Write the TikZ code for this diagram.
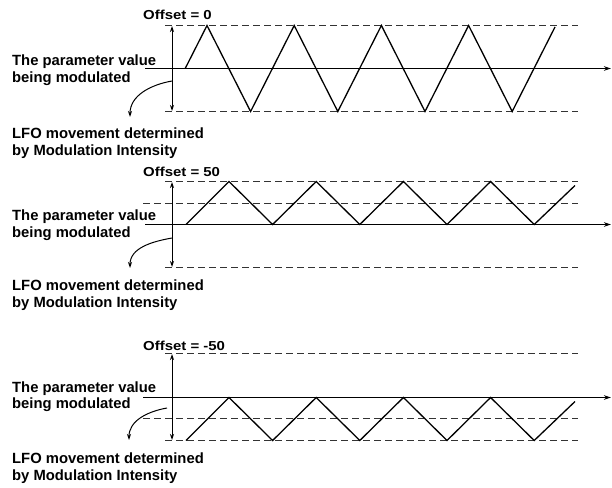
\documentclass[tikz,border=0pt]{standalone}
\usepackage{fontspec}
\setmainfont{Liberation Sans}
\usetikzlibrary{arrows.meta}
\tikzset{
  lbl/.style={anchor=base west, inner sep=0pt, align=left, font=\fontsize{14.8}{16.5}\selectfont\bfseries},
  offs/.style={anchor=base west, inner sep=0pt, font=\fontsize{13}{15}\selectfont\bfseries},
  guideline/.style={dash pattern=on 7pt off 4pt, line width=1pt, black!80},
  axisline/.style={line width=1.3pt, -{Stealth[length=7pt,width=4.5pt]}},
  waveline/.style={line width=1.3pt, line join=miter},
  spanarrow/.style={line width=1pt, {Stealth[length=6pt,width=4pt]}-{Stealth[length=6pt,width=4pt]}},
  curvarrow/.style={line width=1pt, -{Stealth[length=6pt,width=4pt]}},
}
\begin{document}
\begin{tikzpicture}[x=1pt,y=-1pt]
\useasboundingbox (0,0) rectangle (612,487);

% ---------- Panel 1: Offset = 0 ----------
\node[offs] (o1) at (143,20) {\scalebox{1.15}[1]{Offset = 0}};
\coordinate (t1a) at (165,25.5); \coordinate (t1b) at (578,25.5);
\coordinate (b1a) at (165,111.5); \coordinate (b1b) at (578,111.5);
\coordinate (a1a) at (145,68.5); \coordinate (a1b) at (611,68.5);
\draw[guideline] (t1a) -- (t1b);
\draw[guideline] (b1a) -- (b1b);
\draw[axisline] (a1a) -- (a1b);
\draw[waveline] (185.2,68.5) -- (207,25.5) -- (250.6,111.5) -- (294.2,25.5) -- (337.8,111.5)
  -- (381.4,25.5) -- (425,111.5) -- (468.6,25.5) -- (512.2,111.5) -- (555,27);
\coordinate (r1a) at (172,26); \coordinate (r1b) at (172,111);
\draw[spanarrow] (r1a) -- (r1b);
\node[lbl] (p1) at (12,82) {The parameter value\\being modulated};
\node[lbl] (l1) at (12,155) {LFO movement determined\\by Modulation Intensity};
\coordinate (c1a) at (172,81); \coordinate (c1b) at (130,117);
\draw[curvarrow] (c1a) to[out=190,in=90] (c1b);

% ---------- Panel 2: Offset = 50 ----------
\node[offs] (o2) at (143,176.7) {\scalebox{1.15}[1]{Offset = 50}};
\coordinate (t2a) at (165,181.5); \coordinate (t2b) at (578,181.5);
\coordinate (m2a) at (143,203.5); \coordinate (m2b) at (578,203.5);
\coordinate (b2a) at (165,267.5); \coordinate (b2b) at (578,267.5);
\coordinate (a2a) at (145,224.5); \coordinate (a2b) at (611,224.5);
\draw[guideline] (t2a) -- (t2b);
\draw[guideline] (m2a) -- (m2b);
\draw[guideline] (b2a) -- (b2b);
\draw[axisline] (a2a) -- (a2b);
\draw[waveline] (186,224.5) -- (229,181.5) -- (272.6,224.5) -- (316.2,181.5) -- (359.8,224.5)
  -- (403.4,181.5) -- (447,224.5) -- (490.6,181.5) -- (534.2,224.5) -- (575,185.5);
\coordinate (r2a) at (172,182); \coordinate (r2b) at (172,267);
\draw[spanarrow] (r2a) -- (r2b);
\node[lbl] (p2) at (12,237) {The parameter value\\being modulated};
\node[lbl] (l2) at (12,307) {LFO movement determined\\by Modulation Intensity};
\coordinate (c2a) at (172,238); \coordinate (c2b) at (130,268);
\draw[curvarrow] (c2a) to[out=190,in=90] (c2b);

% ---------- Panel 3: Offset = -50 ----------
\node[offs] (o3) at (143,350) {\scalebox{1.15}[1]{Offset = -50}};
\coordinate (t3a) at (165,353.5); \coordinate (t3b) at (578,353.5);
\coordinate (m3a) at (143,418.5); \coordinate (m3b) at (578,418.5);
\coordinate (b3a) at (165,440.5); \coordinate (b3b) at (578,440.5);
\coordinate (a3a) at (143,397.5); \coordinate (a3b) at (611,397.5);
\draw[guideline] (t3a) -- (t3b);
\draw[guideline] (m3a) -- (m3b);
\draw[guideline] (b3a) -- (b3b);
\draw[axisline] (a3a) -- (a3b);
\draw[waveline] (186,440.5) -- (229,397.5) -- (272.6,440.5) -- (316.2,397.5) -- (359.8,440.5)
  -- (403.4,397.5) -- (447,440.5) -- (490.6,397.5) -- (534.2,440.5) -- (575,401.5);
\coordinate (r3a) at (172,354); \coordinate (r3b) at (172,440);
\draw[spanarrow] (r3a) -- (r3b);
\node[lbl] (p3) at (12,408.5) {The parameter value\\being modulated};
\node[lbl] (l3) at (12,480) {LFO movement determined\\by Modulation Intensity};
\coordinate (c3a) at (167,408); \coordinate (c3b) at (129,440);
\draw[curvarrow] (c3a) to[out=190,in=90] (c3b);
\end{tikzpicture}
\end{document}
